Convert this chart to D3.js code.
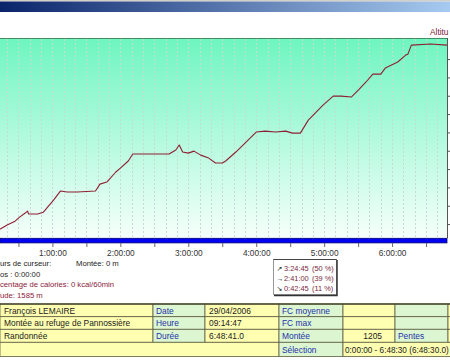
<!DOCTYPE html>
<html><head><meta charset="utf-8">
<script src="https://cdn.jsdelivr.net/npm/d3@7"></script>
<style>
html,body{margin:0;padding:0;background:#fff;overflow:hidden}
svg{display:block;font-family:"Liberation Sans",Arial,"DejaVu Sans",sans-serif}
</style></head>
<body><svg id="c" width="450" height="360"></svg>
<script>
// ---- data ----
const timeMin = [0,10,14,20,27,31,36,38,39,47,52,61,67,73,82,98,102,108,116,120,127,131,147,163,169,172,175,180,185,191,198,204,210,213,222,231,240,248,257,266,272,279,286,299,308,315,324,331,337,343,350,354,365,372,374,377,394,408.5];
const altitude = [1585,1577,1573,1595,1616,1638,1660,1671,1655,1655,1665,1731,1780,1775,1775,1780,1818,1829,1884,1905,1944,1982,1982,1982,2004,2031,1993,1987,1998,1976,1960,1933,1933,1944,1993,2047,2102,2107,2102,2107,2096,2096,2167,2249,2298,2298,2293,2336,2375,2418,2418,2451,2484,2522,2527,2576,2582,2576];
const hourTickLabels = ["1:00:00","2:00:00","3:00:00","4:00:00","5:00:00","6:00:00"];
const altTicks = [1600,1700,1800,1900,2000,2100,2200,2300,2400,2500];
// visible parts of the cursor panel texts (panel is cropped at the left edge)
const cursorLines = ["urs de curseur:","os : 0:00:00","centage de calories: 0 kcal/60min","ude: 1585 m"];
const climbText = "Montée: 0 m";
const axisTitle = "Altitu";
const slopeArrows = ["↗","→","↘"];
const slopeTimes = ["3:24:45","2:41:00","0:42:45"];
const slopePct = ["(50 %)","(39 %)","(11 %)"];
const tableRows = [
  ["François LEMAIRE","Date","29/04/2006","FC moyenne","",""],
  ["Montée au refuge de Pannossière","Heure","09:14:47","FC max","",""],
  ["Randonnée","Durée","6:48:41.0","Montée","1205","Pentes"]
];
const selectionLabel = "Sélection";
const selectionText = "0:00:00 - 6:48:30 (6:48:30.0)";

const svg = d3.select("#c");
const defs = svg.append("defs");

// title bar gradient
const tg = defs.append("linearGradient").attr("id","tg").attr("x1",0).attr("x2",1).attr("y1",0).attr("y2",0);
tg.append("stop").attr("offset","0%").attr("stop-color","#0a246a");
tg.append("stop").attr("offset","100%").attr("stop-color","#a6caf0");
svg.append("rect").attr("x",0).attr("y",0).attr("width",450).attr("height",1.5).attr("fill","#d4d0c8");
svg.append("rect").attr("x",0).attr("y",1.5).attr("width",450).attr("height",10.5).attr("fill","url(#tg)");

// plot background gradient
const pg = defs.append("linearGradient").attr("id","pg").attr("x1",0).attr("x2",0).attr("y1",0).attr("y2",1);
pg.append("stop").attr("offset","0%").attr("stop-color","#6ef5c0");
pg.append("stop").attr("offset","100%").attr("stop-color","#f6fffb");

const x = d3.scaleLinear().domain([0,408.5]).range([-15.5,447]);
const y = d3.scaleLinear().domain([1524,2615]).range([238,38]);

const plotL = 0, plotR = x(408.5), plotT = y(2615), plotB = y(1524);
svg.append("rect").attr("x",plotL).attr("y",plotT).attr("width",plotR-plotL).attr("height",plotB-plotT).attr("fill","url(#pg)");

// vertical dashed gridlines every 10 minutes
svg.append("g").selectAll("line").data(d3.range(10,408,10).filter(d=>x(d)>0))
  .join("line").attr("x1",d=>Math.round(x(d))+0.5).attr("x2",d=>Math.round(x(d))+0.5)
  .attr("y1",plotT+1).attr("y2",plotB-1)
  .attr("stroke","#c6dccf").attr("stroke-width",1).attr("stroke-dasharray","2,2");

// top border
svg.append("line").attr("x1",0).attr("x2",plotR).attr("y1",plotT+0.5).attr("y2",plotT+0.5).attr("stroke","#3f8f62").attr("stroke-width",1);

// right axis
const ra = svg.append("g").attr("transform",`translate(${plotR},0)`)
  .call(d3.axisRight(y).tickValues(altTicks).tickSize(4).tickFormat(""));
ra.select(".domain").attr("stroke","#555").attr("d",`M0.5,${plotT}V${plotB}`);
ra.selectAll(".tick line").attr("stroke","#555");
svg.append("text").attr("x",430).attr("y",35).attr("font-size",8.3).attr("fill","#7a1a3a").text(axisTitle);

// altitude line
const line = d3.line().x((d,i)=>x(timeMin[i])).y((d,i)=>y(altitude[i]));
svg.append("path").datum(altitude).attr("d",line).attr("fill","none")
  .attr("stroke","#8e1f32").attr("stroke-width",1.1).attr("stroke-linejoin","round");

// blue bar
svg.append("rect").attr("x",0).attr("y",238.3).attr("width",plotR).attr("height",4.6)
  .attr("fill","#0000f0").attr("stroke","#00007a").attr("stroke-width",0.8);

// bottom time axis
const ba = svg.append("g").attr("transform","translate(0,243)")
  .call(d3.axisBottom(x).tickValues(d3.range(30,408,30)).tickSize(4)
    .tickFormat(d => d%60===0 ? hourTickLabels[d/60-1] : ""));
ba.select(".domain").remove();
ba.selectAll(".tick line").attr("stroke","#666");
ba.selectAll(".tick text").attr("font-size",8.3).attr("fill","#333").attr("font-family","Liberation Sans, Arial, sans-serif");

// cursor values
const cv = svg.append("g").attr("font-size",7.7);
cv.append("text").attr("x",0).attr("y",266).attr("fill","#222").text(cursorLines[0]);
cv.append("text").attr("x",76).attr("y",266).attr("fill","#222").text(climbText);
cv.append("text").attr("x",0).attr("y",276.5).attr("fill","#222").text(cursorLines[1]);
cv.append("text").attr("x",0).attr("y",287).attr("fill","#8b1a3a").text(cursorLines[2]);
cv.append("text").attr("x",0).attr("y",297.5).attr("fill","#8b1a3a").text(cursorLines[3]);

// slope popup box
const bx = svg.append("g");
bx.append("rect").attr("x",273.5).attr("y",259.5).attr("width",63).attr("height",35).attr("fill","#fff").attr("stroke","#999");
bx.append("path").attr("d","M273.5,259.5H336.5").attr("stroke","#444").attr("stroke-width",1);
bx.append("path").attr("d","M337,260V295.5H274").attr("fill","none").attr("stroke","#333").attr("stroke-width",1.5);
slopeArrows.forEach((a,i)=>{
  const yy = 270.5 + i*10;
  bx.append("text").attr("x",276.5).attr("y",yy).attr("font-size",7).attr("fill","#111").text(a);
  bx.append("text").attr("x",284).attr("y",yy).attr("font-size",7.4).attr("fill","#7a1f3d").text(slopeTimes[i]);
  bx.append("text").attr("x",312).attr("y",yy).attr("font-size",7.4).attr("fill","#7a1f3d").text(slopePct[i]);
});

// info table
const colX = [0,153,205,279,343,395,448,470];
const rowY = [304,316.7,329.3,342.3,356.5];
const yellow = "#ffffb2", green = "#dcf6d2", border = "#5e5e40";
const labelCols = [1,3,5];
const tb = svg.append("g").attr("font-size",8.4);
tableRows.forEach((row,r)=>{
  for(let c=0;c<7;c++){
    const isLabel = labelCols.includes(c);
    tb.append("rect").attr("x",colX[c]).attr("y",rowY[r]).attr("width",colX[c+1]-colX[c]).attr("height",rowY[r+1]-rowY[r])
      .attr("fill", isLabel ? green : yellow).attr("stroke",border).attr("stroke-width",0.8);
    const txt = row[c];
    if(txt){
      const t = tb.append("text").attr("y",rowY[r]+9.6).attr("fill", isLabel ? "#1e32a8" : "#1a1a1a").text(txt);
      if(c===4) t.attr("x",colX[5]-13).attr("text-anchor","end");
      else t.attr("x",colX[c]+(c===0?4:c===2?4:3));
    }
  }
});
// selection row
tb.append("rect").attr("x",0).attr("y",rowY[3]).attr("width",colX[3]).attr("height",rowY[4]-rowY[3]).attr("fill",yellow).attr("stroke",border).attr("stroke-width",0.8);
tb.append("rect").attr("x",colX[3]).attr("y",rowY[3]).attr("width",colX[4]-colX[3]).attr("height",rowY[4]-rowY[3]).attr("fill",green).attr("stroke",border).attr("stroke-width",0.8);
tb.append("rect").attr("x",colX[4]).attr("y",rowY[3]).attr("width",470-colX[4]).attr("height",rowY[4]-rowY[3]).attr("fill",yellow).attr("stroke",border).attr("stroke-width",0.8);
tb.append("text").attr("x",colX[3]+3).attr("y",rowY[3]+10.5).attr("fill","#1e32a8").text(selectionLabel);
tb.append("text").attr("x",colX[4]+2).attr("y",rowY[3]+10.5).attr("font-size",8.2).attr("fill","#1a1a1a").text(selectionText);
tb.append("line").attr("x1",0).attr("x2",450).attr("y1",rowY[0]).attr("y2",rowY[0]).attr("stroke","#4a4a30").attr("stroke-width",1.4);
</script></body></html>
